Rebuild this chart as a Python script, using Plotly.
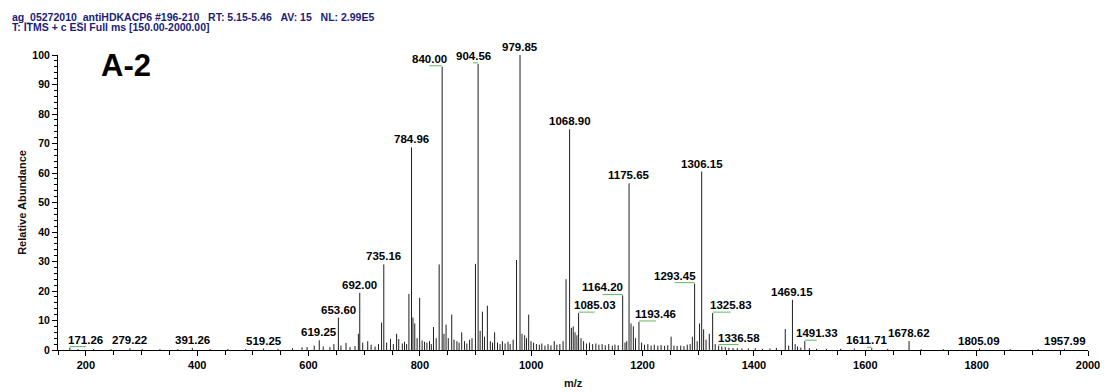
import plotly.graph_objects as go

# ---------------- data ----------------
mz = [171.26, 186.1, 214.0, 245.2, 279.22, 301.2, 333.1, 365.2, 391.26, 423.3, 455.2, 487.1,
      519.25, 545.3, 571.2, 588.3, 597.4, 610.2, 619.25, 626.3, 638.4, 645.5, 653.60, 658.2,
      667.3, 674.5, 683.4, 689.5, 692.00, 697.3, 706.3, 712.4, 719.5, 725.6, 731.2, 735.16,
      740.3, 747.1, 752.3, 758.2, 762.0, 768.4, 772.4, 776.2, 780.3, 784.96, 787.5, 790.8,
      795.0, 799.6, 804.0, 808.4, 812.6, 817.3, 820.5, 824.4, 829.3, 834.6, 840.00, 843.2,
      847.0, 851.0, 857.2, 861.3, 866.5, 870.4, 875.1, 880.2, 884.4, 889.3, 893.6, 899.8,
      904.56, 908.2, 912.3, 916.0, 921.2, 926.5, 930.5, 934.2, 939.4, 944.0, 948.2, 953.0,
      958.3, 962.1, 967.5, 973.6, 979.85, 983.4, 988.2, 991.5, 995.4, 999.6, 1004.2, 1009.3,
      1014.5, 1019.0, 1024.6, 1030.2, 1035.4, 1041.3, 1046.0, 1051.4, 1057.2, 1062.5, 1068.90,
      1072.1, 1075.4, 1078.6, 1082.0, 1085.03, 1089.4, 1094.0, 1099.2, 1104.6, 1110.3, 1116.0,
      1121.5, 1127.3, 1133.0, 1139.2, 1145.6, 1150.4, 1156.2, 1164.20, 1168.4, 1171.5, 1175.65,
      1179.2, 1183.4, 1187.3, 1193.46, 1198.2, 1203.5, 1209.4, 1215.3, 1221.0, 1227.4, 1233.2,
      1239.5, 1245.2, 1251.2, 1256.3, 1262.0, 1268.5, 1274.3, 1280.2, 1285.4, 1289.4, 1293.45,
      1298.0, 1302.3, 1306.15, 1309.6, 1314.0, 1319.8, 1325.83, 1330.4, 1336.58, 1342.3, 1348.5,
      1355.0, 1362.4, 1370.2, 1378.4, 1390.0, 1402.3, 1415.2, 1428.6, 1440.3, 1456.2, 1462.4,
      1469.15, 1474.0, 1478.3, 1484.2, 1491.33, 1499.5, 1512.4, 1530.2, 1555.6, 1580.3, 1611.71,
      1640.2, 1678.62, 1700.4, 1740.2, 1805.09, 1860.3, 1910.4, 1957.99]
abundance = [0.8, 0.3, 0.3, 0.3, 0.6, 0.3, 0.3, 0.3, 0.7, 0.3, 0.3, 0.3,
             0.5, 0.4, 0.6, 0.9, 1.0, 1.5, 3.3, 1.2, 1.0, 2.0, 11.0, 1.5,
             2.4, 1.0, 1.3, 5.5, 19.4, 2.5, 3.0, 1.8, 1.2, 2.0, 9.3, 29.0,
             2.5, 3.8, 2.0, 5.5, 3.7, 2.2, 2.8, 2.0, 19.0, 68.7, 11.0, 9.0,
             4.0, 17.7, 3.2, 2.8, 2.5, 3.0, 2.0, 7.8, 4.0, 29.0, 96.0, 5.5,
             8.6, 4.0, 12.0, 3.5, 3.0, 2.5, 6.0, 3.0, 2.2, 3.5, 4.0, 29.2,
             97.0, 6.5, 13.0, 4.5, 15.0, 3.0, 2.5, 6.0, 2.5, 2.0, 3.0, 2.2,
             2.8, 2.0, 3.5, 30.5, 100.0, 5.5, 5.0, 4.0, 12.0, 3.0, 2.5, 2.0,
             1.8, 2.2, 1.5, 2.0, 1.6, 3.0, 1.8, 2.0, 3.0, 24.0, 74.8,
             7.5, 8.0, 6.0, 5.0, 12.5, 4.0, 3.0, 2.2, 2.5, 2.0, 2.2,
             1.8, 2.0, 1.6, 2.0, 1.5, 1.8, 1.6, 18.5, 2.5, 3.0, 56.5,
             9.0, 8.0, 4.0, 9.5, 2.5, 1.8, 2.0, 1.5, 1.8, 1.5, 1.7,
             1.4, 1.6, 4.5, 1.5, 1.4, 1.5, 1.3, 1.8, 2.0, 4.5, 22.5,
             3.0, 9.0, 60.5, 7.0, 3.5, 5.5, 12.5, 2.0, 1.5, 1.2, 1.0,
             0.8, 0.7, 0.6, 0.5, 0.5, 0.6, 0.4, 0.5, 0.7, 7.1, 1.5,
             17.0, 2.0, 1.2, 0.8, 3.0, 0.6, 0.4, 0.4, 0.4, 0.5, 0.6,
             0.4, 3.0, 0.3, 0.3, 0.5, 0.3, 0.3, 0.4]

labeled_mz = [171.26, 279.22, 391.26, 519.25, 619.25, 653.60, 692.00, 735.16, 784.96, 840.00,
              904.56, 979.85, 1068.90, 1085.03, 1164.20, 1175.65, 1193.46, 1293.45, 1306.15,
              1325.83, 1336.58, 1469.15, 1491.33, 1611.71, 1678.62, 1805.09, 1957.99]

y_ticks = [0, 10, 20, 30, 40, 50, 60, 70, 80, 90, 100]
x_ticks = [200, 400, 600, 800, 1000, 1200, 1400, 1600, 1800, 2000]

header_1_fields = ["ag_05272010_antiHDKACP6 #196-210", "RT: 5.15-5.46", "AV: 15", "NL: 2.99E5"]
header_2_fields = ["T: ITMS + c ESI Full ms", "[150.00-2000.00]"]
panel_label = "A-2"

# label placement offsets (px) for labels moved sideways -- layout only
label_shift = {171.26: 16, 840.00: -13, 904.56: -5, 1085.03: 16, 1164.20: -20, 1193.46: 17,
               1293.45: -20, 1325.83: 18, 1336.58: 20, 1491.33: 12, 1611.71: -5}

# ---------------- figure ----------------
FONT = "Liberation Sans, Arial, sans-serif"
px, py = [], []
for m, a in zip(mz, abundance):
    px += [m, m, None]
    py += [0, a, None]

fig = go.Figure()
fig.add_trace(go.Scatter(x=px, y=py, mode="lines", line=dict(color="#1e1e1e", width=1),
                         hoverinfo="skip", showlegend=False))

lookup = dict(zip(mz, abundance))
annotations = []
shapes = []
for m in labeled_mz:
    a = lookup[m]
    dx = label_shift.get(m, 0)
    annotations.append(dict(x=m, y=a, xref="x", yref="y", text=f"{m:.2f}", showarrow=False,
                            xanchor="center", yanchor="bottom", xshift=dx, yshift=0,
                            font=dict(family=FONT, size=11.5, color="black", weight="bold")))
    if dx != 0:
        shapes.append(dict(type="line", xref="x", yref="y", xsizemode="pixel", ysizemode="pixel",
                           xanchor=m, yanchor=a, x0=0, x1=dx, y0=1, y1=1,
                           line=dict(color="#5fb85f", width=1)))

HDR = dict(family=FONT, size=10.5, color="#1c1c78", weight="bold")
gap = "\u00a0" * 3
annotations.append(dict(x=-0.0462, y=1.130, xref="paper", yref="paper",
                        text=gap.join(header_1_fields), showarrow=False,
                        xanchor="left", yanchor="middle", font=HDR))
annotations.append(dict(x=-0.0462, y=1.094, xref="paper", yref="paper",
                        text=" ".join(header_2_fields), showarrow=False,
                        xanchor="left", yanchor="middle", font=HDR))

annotations += [
    dict(x=0.0665, y=0.963, xref="paper", yref="paper", text=panel_label, showarrow=False,
         xanchor="center", yanchor="middle",
         font=dict(family=FONT, size=31, color="black", weight="bold")),
    dict(x=-0.0356, y=0.5, xref="paper", yref="paper", text="Relative Abundance", showarrow=False,
         textangle=-90, xanchor="center", yanchor="middle",
         font=dict(family=FONT, size=11, color="#111111", weight="bold")),
    dict(x=0.5, y=-0.112, xref="paper", yref="paper", text="m/z", showarrow=False,
         xanchor="center", yanchor="middle",
         font=dict(family=FONT, size=11, color="#111111", weight="bold")),
]

# the page body adds an 8 px margin, so the figure is 8 px smaller and shifted accordingly
fig.update_layout(
    width=1104, height=384,
    margin=dict(l=50, r=16, t=47, b=42),
    paper_bgcolor="white", plot_bgcolor="white",
    annotations=annotations, shapes=shapes,
    xaxis=dict(range=[150, 2000], tickmode="array", tickvals=x_ticks,
               ticktext=[str(v) for v in x_ticks], showgrid=False, zeroline=False,
               showline=True, linecolor="black", linewidth=1,
               ticks="outside", ticklen=5, tickwidth=1, tickcolor="black",
               minor=dict(tickmode="linear", tick0=0, dtick=50, ticks="outside", ticklen=4,
                          tickcolor="black", showgrid=False),
               tickfont=dict(family=FONT, size=11, color="black", weight="bold")),
    yaxis=dict(range=[0, 100], tickmode="array", tickvals=y_ticks,
               ticktext=[str(v) for v in y_ticks], showgrid=False, zeroline=False,
               showline=True, linecolor="black", linewidth=1,
               ticks="outside", ticklen=5, tickwidth=1, tickcolor="black",
               minor=dict(tickmode="linear", tick0=0, dtick=2, ticks="outside", ticklen=3,
                          tickcolor="black", showgrid=False),
               tickfont=dict(family=FONT, size=10.5, color="black", weight="bold")),
)

fig.write_html("out.html")
